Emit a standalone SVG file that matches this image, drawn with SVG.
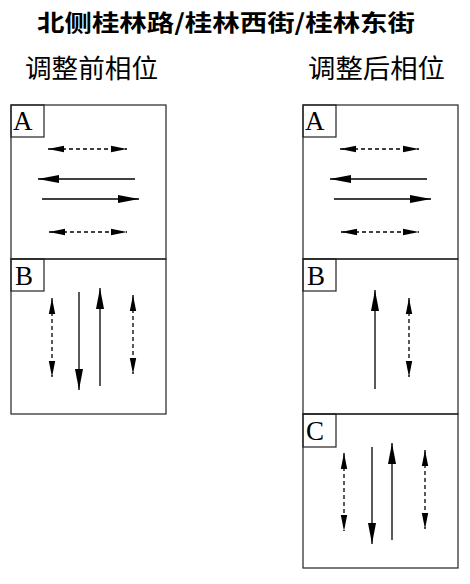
<svg xmlns="http://www.w3.org/2000/svg" width="470" height="584" viewBox="0 0 470 584">
<style>
.box{fill:none;stroke:#222;stroke-width:1.2}
.lbl{fill:none;stroke:#222;stroke-width:1.2}
.s{stroke:#000;stroke-width:1.3;fill:none}
.d{stroke:#000;stroke-width:1.3;fill:none;stroke-dasharray:4 3}
.t{font-family:"Liberation Serif",serif;font-size:27px;fill:#000}
.cjk{font-family:"Noto Sans CJK SC",sans-serif;fill:#000}
</style>
<defs>
<marker id="hs" markerUnits="userSpaceOnUse" markerWidth="22" markerHeight="9" refX="21" refY="4" orient="auto-start-reverse" overflow="visible"><path d="M0,0 L21,4 L0,8 z" fill="#000"/></marker>
<marker id="hd" markerUnits="userSpaceOnUse" markerWidth="17" markerHeight="7" refX="16" refY="3.2" orient="auto-start-reverse" overflow="visible"><path d="M0,0 L16,3.2 L0,6.4 z" fill="#000"/></marker>
</defs>
<text class="cjk" x="37" y="31" font-size="23" font-weight="bold" textLength="378" lengthAdjust="spacingAndGlyphs">北侧桂林路/桂林西街/桂林东街</text>
<text class="cjk" x="25" y="78" font-size="26" textLength="133" lengthAdjust="spacingAndGlyphs">调整前相位</text>
<text class="cjk" x="308" y="78" font-size="26" textLength="137" lengthAdjust="spacingAndGlyphs">调整后相位</text>
<g id="before-A">
<rect class="box" x="11" y="105" width="155" height="154"/>
<rect class="lbl" x="11" y="105" width="33" height="32"/>
<text class="t" x="13" y="130">A</text>
</g>
<g id="before-B">
<rect class="box" x="11" y="259" width="155" height="155"/>
<rect class="lbl" x="11" y="259" width="33" height="32"/>
<text class="t" x="15" y="285">B</text>
</g>
<g id="after-A">
<rect class="box" x="303" y="105" width="155" height="154"/>
<rect class="lbl" x="303" y="105" width="33" height="32"/>
<text class="t" x="305" y="130">A</text>
</g>
<g id="after-B">
<rect class="box" x="303" y="259" width="155" height="155"/>
<rect class="lbl" x="303" y="259" width="33" height="32"/>
<text class="t" x="307" y="285">B</text>
</g>
<g id="after-C">
<rect class="box" x="303" y="414" width="155" height="154"/>
<rect class="lbl" x="303" y="414" width="33" height="33"/>
<text class="t" x="306" y="440">C</text>
</g>
<g id="connectors">
<line class="d" x1="48" y1="149" x2="127" y2="149" marker-start="url(#hd)" marker-end="url(#hd)"/>
<line class="s" x1="135" y1="179" x2="38" y2="179" marker-end="url(#hs)"/>
<line class="s" x1="42" y1="199" x2="139" y2="199" marker-end="url(#hs)"/>
<line class="d" x1="49" y1="232" x2="127" y2="232" marker-start="url(#hd)" marker-end="url(#hd)"/>
<line class="d" x1="340" y1="149" x2="419" y2="149" marker-start="url(#hd)" marker-end="url(#hd)"/>
<line class="s" x1="427" y1="179" x2="330" y2="179" marker-end="url(#hs)"/>
<line class="s" x1="334" y1="199" x2="431" y2="199" marker-end="url(#hs)"/>
<line class="d" x1="341" y1="232" x2="419" y2="232" marker-start="url(#hd)" marker-end="url(#hd)"/>
<line class="d" x1="52" y1="298" x2="52" y2="377" marker-start="url(#hd)" marker-end="url(#hd)"/>
<line class="s" x1="79" y1="292" x2="79" y2="390" marker-end="url(#hs)"/>
<line class="s" x1="100" y1="386" x2="100" y2="288" marker-end="url(#hs)"/>
<line class="d" x1="133" y1="295" x2="133" y2="374" marker-start="url(#hd)" marker-end="url(#hd)"/>
<line class="s" x1="375" y1="389" x2="375" y2="290" marker-end="url(#hs)"/>
<line class="d" x1="409" y1="298" x2="409" y2="377" marker-start="url(#hd)" marker-end="url(#hd)"/>
<line class="d" x1="344" y1="453" x2="344" y2="531" marker-start="url(#hd)" marker-end="url(#hd)"/>
<line class="s" x1="372" y1="447" x2="372" y2="544" marker-end="url(#hs)"/>
<line class="s" x1="392" y1="540" x2="392" y2="443" marker-end="url(#hs)"/>
<line class="d" x1="425" y1="450" x2="425" y2="529" marker-start="url(#hd)" marker-end="url(#hd)"/>
</g>
</svg>
